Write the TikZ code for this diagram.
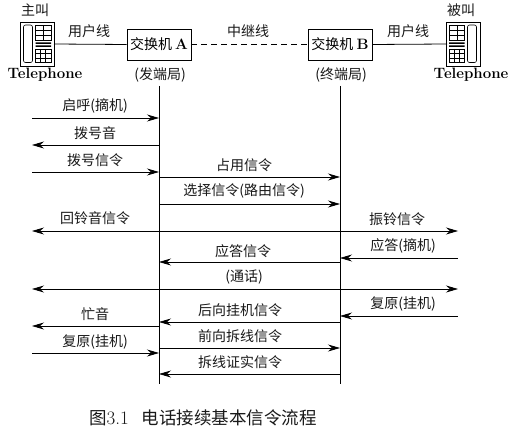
\documentclass[tikz,border=0pt]{standalone}
\usepackage{fontspec}
\usetikzlibrary{arrows.meta}
\newfontfamily\cjk{Noto Sans CJK SC}
\tikzset{
  lbl/.style={inner sep=0pt,font=\cjk\fontsize{14}{16}\selectfont,text=black!90},
  telbl/.style={inner sep=0pt,font=\fontsize{15}{17}\selectfont\bfseries},
  sw/.style={draw,line width=0.9pt,minimum width=64pt,minimum height=31pt,inner sep=0pt,font=\cjk\fontsize{14}{16}\selectfont},
  wire/.style={line width=0.8pt},
  msg/.style={line width=0.8pt},
  tipr/.style={-{Stealth[length=12pt,width=7pt,inset=4pt]}},
  tipl/.style={{Stealth[length=12pt,width=7pt,inset=4pt]}-},
  tipb/.style={{Stealth[length=12pt,width=7pt,inset=4pt]}-{Stealth[length=12pt,width=7pt,inset=4pt]}},
  gridl/.style={line width=0.6pt}
}
\newcommand{\phonepic}[2]{%
  \begin{scope}[shift={(#1,22)},xscale=#2]
    \draw[line width=0.7pt] (0,0) rectangle (34,44);
    \draw[line width=0.6pt,rounded corners=2pt] (3.5,3) rectangle (12.5,40.5);
    \draw[gridl] (15.5,3) rectangle (31,18.5);
    \draw[gridl] (15.5,8) -- (31,8) (15.5,13) -- (31,13);
    \draw[gridl] (23,3) -- (23,18.5);
    \fill (15.5,20.5) rectangle (31,22) (15.5,23.5) rectangle (31,25);
    \draw[gridl] (15.5,27) rectangle (31,40.5);
    \draw[gridl] (15.5,31.5) -- (31,31.5) (15.5,36) -- (31,36);
    \draw[gridl] (20.5,27) -- (20.5,40.5) (25.5,27) -- (25.5,40.5);
  \end{scope}}
\begin{document}
\begin{tikzpicture}[x=1pt,y=-1pt]
\useasboundingbox (0,0) rectangle (513,430);
\fill[white] (0,0) rectangle (513,430);
% columns
\coordinate (L) at (32,0);
\coordinate (A) at (159,0);
\coordinate (B) at (340,0);
\coordinate (R) at (458,0);
% phones
\phonepic{20}{1}
\phonepic{480}{-1}
\coordinate (phoneL) at (54,44);
\coordinate (phoneR) at (447,44);
\node[lbl] (caller) at (35,10) {主叫};
\node[lbl] (callee) at (461,10) {被叫};
\node[telbl] (telL) at (45,75) {Telephone};
\node[telbl] (telR) at (471,75) {Telephone};
% exchanges
\node[sw] (swA) at (159,44.5) {交换机 {\normalfont\fontsize{15}{16}\selectfont\bfseries A}};
\node[sw] (swB) at (340,44.5) {交换机 {\normalfont\fontsize{15}{16}\selectfont\bfseries B}};
\node[lbl] (fa) at (160,75) {(发端局)};
\node[lbl] (zhong) at (341,75) {(终端局)};
\draw[wire] (phoneL) -- (swA.west);
\draw[wire] (swB.east) -- (phoneR);
\draw[wire,dash pattern=on 6pt off 4pt] (swA.east) -- (swB.west);
\node[lbl] (u1) at (89,31) {用户线};
\node[lbl] (u2) at (408,31) {用户线};
\node[lbl] (tr) at (248,31) {中继线};
% lifelines
\coordinate (At) at (159,86);
\coordinate (Ab) at (159,384);
\coordinate (Bt) at (340,86);
\coordinate (Bb) at (340,384);
\draw[wire] (At) -- (Ab);
\draw[wire] (Bt) -- (Bb);
% message rows
\foreach \n/\y in {a/118,b/145,c/172,d/177,e/204,f/231,g/258,h/262,i/289,j/316,k/322,l/326,m/348,n/353,o/374}
  \coordinate (r\n) at (0,\y);
\draw[msg,tipr] (L|-ra) -- (A|-ra);
\draw[msg,tipl] (L|-rb) -- (A|-rb);
\draw[msg,tipr] (L|-rc) -- (A|-rc);
\draw[msg,tipr] (A|-rd) -- (B|-rd);
\draw[msg,tipr] (A|-re) -- (B|-re);
\draw[msg,tipb] (L|-rf) -- (R|-rf);
\draw[msg,tipl] (B|-rg) -- (R|-rg);
\draw[msg,tipl] (A|-rh) -- (B|-rh);
\draw[msg,tipb] (L|-ri) -- (R|-ri);
\draw[msg,tipl] (B|-rj) -- (R|-rj);
\draw[msg,tipl] (A|-rk) -- (B|-rk);
\draw[msg,tipl] (L|-rl) -- (A|-rl);
\draw[msg,tipr] (A|-rm) -- (B|-rm);
\draw[msg,tipr] (L|-rn) -- (A|-rn);
\draw[msg,tipl] (A|-ro) -- (B|-ro);
% labels
\node[lbl] (t1) at (95,106) {启呼(摘机)};
\node[lbl] (t2) at (95,133) {拨号音};
\node[lbl] (t3) at (95,160) {拨号信令};
\node[lbl] (t4) at (244,165) {占用信令};
\node[lbl] (t5) at (244,191) {选择信令(路由信令)};
\node[lbl] (t6) at (95,218) {回铃音信令};
\node[lbl] (t7) at (397,219) {振铃信令};
\node[lbl] (t8) at (403,246) {应答(摘机)};
\node[lbl] (t9) at (243,251) {应答信令};
\node[lbl] (t10) at (244,277) {(通话)};
\node[lbl] (t11) at (403,304) {复原(挂机)};
\node[lbl] (t12) at (240,310) {后向挂机信令};
\node[lbl] (t13) at (95,314) {忙音};
\node[lbl] (t14) at (95,342) {复原(挂机)};
\node[lbl] (t15) at (240,336) {前向拆线信令};
\node[lbl] (t16) at (240,362) {拆线证实信令};
\node[inner sep=0pt,font=\cjk\fontsize{17.5}{20}\selectfont,text=black!90] (cap) at (203,418) {图{\normalfont\fontsize{19}{20}\selectfont 3.1}\hspace{13pt}电话接续基本信令流程};
\end{tikzpicture}
\end{document}
